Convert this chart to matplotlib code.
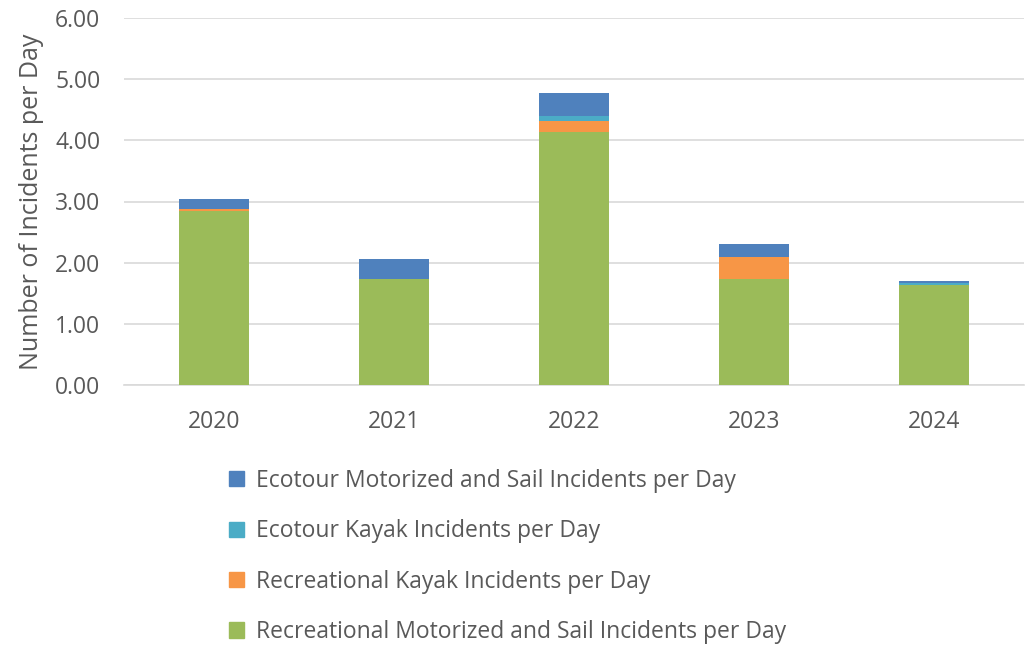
import matplotlib
matplotlib.use("Agg")
import matplotlib.pyplot as plt
from matplotlib.patches import Patch
import numpy as np

years = ["2020", "2021", "2022", "2023", "2024"]
rec_motor = [2.84, 1.74, 4.14, 1.73, 1.64]
rec_kayak = [0.03, 0.00, 0.17, 0.37, 0.00]
eco_kayak = [0.00, 0.00, 0.09, 0.00, 0.03]
eco_motor = [0.17, 0.32, 0.38, 0.20, 0.03]

labels = ["Recreational Motorized and Sail Incidents per Day",
          "Recreational Kayak Incidents per Day",
          "Ecotour Kayak Incidents per Day",
          "Ecotour Motorized and Sail Incidents per Day"]
colors = ["#9BBB59", "#F79646", "#4BACC6", "#4F81BD"]
yticks = [0, 1, 2, 3, 4, 5, 6]

plt.rcParams['font.family'] = ['Open Sans', 'DejaVu Sans']
tc = "#595959"

fig = plt.figure(figsize=(10.26, 6.62), dpi=100)
ax = fig.add_axes([124/1026, 1 - 385/662, 900/1026, (385-18)/662])

x = np.arange(len(years))
bottom = np.zeros(len(years))
series = [rec_motor, rec_kayak, eco_kayak, eco_motor]
for vals, c in zip(series, colors):
    ax.bar(x, vals, width=0.39, bottom=bottom, color=c, zorder=3)
    bottom += np.array(vals)

ax.set_xlim(-0.5, 4.5)
ax.set_ylim(0, 6)
ax.set_yticks(yticks)
ax.set_yticklabels([f"{v:.2f}" for v in yticks])
ax.set_xticks(x)
ax.set_xticklabels(years)
ax.grid(axis='y', color='#D9D9D9', linewidth=1.2, zorder=0)
for s in ['top', 'right', 'left']:
    ax.spines[s].set_visible(False)
ax.spines['bottom'].set_color('#D9D9D9')
ax.spines['bottom'].set_linewidth(1.2)
ax.tick_params(axis='both', length=0, labelsize=16.5, colors=tc)
ax.tick_params(axis='x', pad=18)
ax.tick_params(axis='y', pad=17)
ax.set_ylabel("Number of Incidents per Day", fontsize=18, color=tc, labelpad=8)

handles = [Patch(color=c) for c in colors][::-1]
leg = fig.legend(handles, labels[::-1], loc='upper left',
                 bbox_to_anchor=(222/1026, 1 - 462/662), frameon=False,
                 fontsize=16.5, labelspacing=1.15, handlelength=0.65,
                 handleheight=0.65, handletextpad=0.55, labelcolor=tc,
                 borderaxespad=0, borderpad=0.3)

fig.savefig("out.png", dpi=100, facecolor='white')
